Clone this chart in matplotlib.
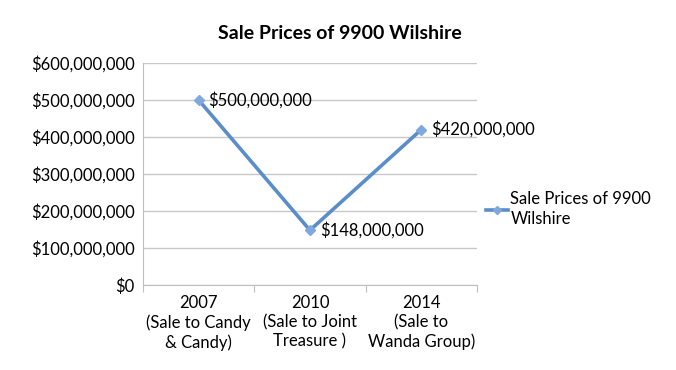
import matplotlib.pyplot as plt
from matplotlib.ticker import FuncFormatter

plt.rcParams['font.family'] = ['Lato', 'DejaVu Sans']

years = ["2007\n(Sale to Candy\n& Candy)", "2010\n(Sale to Joint\nTreasure )", "2014\n(Sale to\nWanda Group)"]
prices = [500000000, 148000000, 420000000]
series_name = "Sale Prices of 9900\nWilshire"

fig = plt.figure(figsize=(6.76, 3.70), dpi=100)
ax = fig.add_axes([0.2115, 0.2297, 0.494, 0.60])

x = [0.5, 1.5, 2.5]
line_c = '#5A8DCA'
ax.plot(x, prices, '-', color=line_c, lw=2.6, marker='D', ms=5.5,
        mfc='#7FA8DE', mec='#7FA8DE', label=series_name, zorder=3)
for xi, p in zip(x, prices):
    ax.annotate("${:,.0f}".format(p), (xi, p), xytext=(7, 0), textcoords='offset points',
                va='center', ha='left', fontsize=12)

ax.set_xlim(0, 3)
ax.set_ylim(0, 600000000)
ax.set_yticks(range(0, 600000001, 100000000))
ax.yaxis.set_major_formatter(FuncFormatter(lambda v, _: "${:,.0f}".format(v)))
ax.set_xticks([0, 1, 2, 3])
ax.set_xticklabels([])
ax.set_xticks(x, minor=True)
ax.set_xticklabels(years, minor=True, linespacing=1.25)
ax.tick_params(axis='x', which='minor', length=0, pad=7, labelsize=12)
ax.tick_params(axis='x', which='major', length=5, color='#bfbfbf', direction='out')
ax.tick_params(axis='y', length=0, labelsize=12, pad=6)
ax.grid(axis='y', color='#c8c8c8', lw=1)
ax.set_axisbelow(True)
for s in ['top', 'right']:
    ax.spines[s].set_visible(False)
ax.spines['left'].set_color('#bfbfbf')
ax.spines['bottom'].set_color('#bfbfbf')

fig.text(0.503, 0.91, "Sale Prices of 9900 Wilshire", ha='center', va='center',
         fontsize=14, fontweight='bold')

leg = fig.legend(loc='center left', bbox_to_anchor=(0.697, 0.435), frameon=False,
                 fontsize=12, handlelength=1.3, handletextpad=0.15, markerscale=0.8)
for t in leg.get_texts():
    t.set_linespacing(1.3)

fig.savefig('out.png', dpi=100)
